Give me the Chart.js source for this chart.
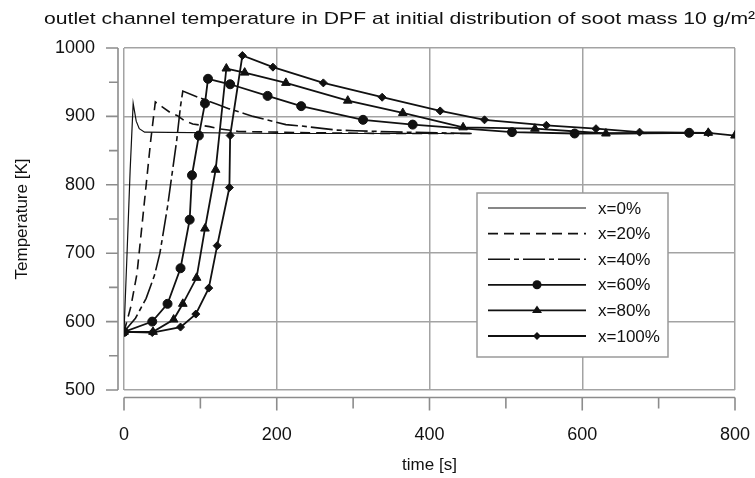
<!DOCTYPE html>
<html>
<head>
<meta charset="utf-8">
<script src="https://cdn.jsdelivr.net/npm/chart.js@4.4.1/dist/chart.umd.min.js"></script>
<style>
  html, body { margin: 0; padding: 0; background: #fff; }
</style>
</head>
<body>
<canvas id="chart" width="755" height="478"></canvas>
<script>
// outlet channel temperature

const titleText = "outlet channel temperature in DPF at initial distribution of soot mass 10 g/m²";
const seriesLabels = ["x=0%", "x=20%", "x=40%", "x=60%", "x=80%", "x=100%"];

const time0 = [0, 4, 8, 12, 16, 20, 27, 200, 455];
const temp0 = [585, 700, 820, 919, 893, 882, 877, 875, 875];

const time20 = [0, 9, 17, 26, 35, 41, 50, 60, 70, 80, 90, 112, 124, 150, 250, 350, 455];
const temp20 = [585, 622, 670, 767, 865, 921, 914, 906, 901, 893, 889, 885, 882, 878, 876, 875, 875];

const time40 = [0, 15, 29, 40, 47, 57, 69, 74, 77, 97, 121, 138, 158, 169, 212, 232, 278, 303, 365, 455];
const temp40 = [585, 605, 634, 668, 700, 768, 865, 915, 937, 928, 918, 911, 904, 900, 888, 886, 880, 879, 877, 875];

const time60 = [0, 37, 57, 74, 86, 89, 98, 106, 110, 139, 188, 232, 313, 378, 508, 590, 740];
const temp60 = [585, 600, 626, 678, 749, 814, 872, 919, 955, 947, 930, 915, 895, 888, 877, 875, 876];

const time80 = [0, 38, 65, 77, 95, 106, 120, 134, 158, 212, 293, 365, 444, 538, 631, 765, 800];
const temp80 = [585, 585, 603, 626, 664, 736, 822, 970, 964, 949, 923, 905, 884, 882, 875, 876, 872];

const time100 = [0, 37, 74, 94, 111, 122, 138, 139, 155, 195, 261, 338, 414, 472, 553, 618, 675, 765];
const temp100 = [585, 584, 592, 611, 649, 711, 796, 872, 989, 972, 949, 928, 908, 895, 887, 882, 877, 876];

const FONT = "'Liberation Sans', Arial, Helvetica, sans-serif";
const INK = "#111";
const GRID = "#a3a3a3";

const toPoints = (xs, ys) => xs.map((x, i) => ({ x, y: ys[i] }));

const datasets = [
  { label: seriesLabels[0], data: toPoints(time0, temp0), borderWidth: 1.2, pointRadius: 0 },
  { label: seriesLabels[1], data: toPoints(time20, temp20), borderWidth: 1.6, borderDash: [10, 6], pointRadius: 0 },
  { label: seriesLabels[2], data: toPoints(time40, temp40), borderWidth: 1.6, borderDash: [22, 4, 5, 4], pointRadius: 0 },
  { label: seriesLabels[3], data: toPoints(time60, temp60), borderWidth: 1.8, pointStyle: "circle", pointRadius: 4.5 },
  { label: seriesLabels[4], data: toPoints(time80, temp80), borderWidth: 1.8, pointStyle: "triangle", pointRadius: 5 },
  { label: seriesLabels[5], data: toPoints(time100, temp100), borderWidth: 1.8, pointStyle: "rectRot", pointRadius: 4 }
].map(d => Object.assign({
  borderColor: INK,
  backgroundColor: INK,
  pointBackgroundColor: INK,
  pointBorderColor: INK,
  pointBorderWidth: 1,
  pointStyle: false,
  tension: 0,
  fill: false
}, d));

// small marker helper for the legend
function marker(ctx, style, x, y, r) {
  ctx.beginPath();
  if (style === "circle") {
    ctx.arc(x, y, r, 0, Math.PI * 2);
  } else if (style === "triangle") {
    const h = r * 1.5;
    ctx.moveTo(x, y - h * 0.66);
    ctx.lineTo(x + r, y + h * 0.34);
    ctx.lineTo(x - r, y + h * 0.34);
    ctx.closePath();
  } else if (style === "rectRot") {
    ctx.moveTo(x, y - r); ctx.lineTo(x + r, y); ctx.lineTo(x, y + r); ctx.lineTo(x - r, y);
    ctx.closePath();
  } else {
    return;
  }
  ctx.fill();
}

const titlePlugin = {
  id: "figTitle",
  afterDraw(chart) {
    const ctx = chart.ctx;
    ctx.save();
    ctx.font = "17px " + FONT;
    ctx.fillStyle = INK;
    ctx.textBaseline = "middle";
    const w = ctx.measureText("outlet channel temperature in DPF at initial distribution of soot mass 10 g/m").width;
    const sx = (748 - 44) / w;
    ctx.translate(44, 19);
    ctx.scale(sx, 1);
    ctx.fillText(titleText, 0, 0);
    ctx.restore();
  }
};

// axis lines sit a few px away from the plot frame, like in the figure
const axesPlugin = {
  id: "offsetAxes",
  afterDraw(chart) {
    const { ctx, chartArea: a, scales: { x, y } } = chart;
    const yAxisX = a.left - 6;
    const xAxisY = a.bottom + 7.5;
    ctx.save();
    ctx.strokeStyle = "#8c8c8c";
    ctx.lineWidth = 1.6;
    ctx.beginPath();
    ctx.moveTo(yAxisX, a.top); ctx.lineTo(yAxisX, a.bottom);
    ctx.moveTo(a.left, xAxisY); ctx.lineTo(a.right, xAxisY);
    y.ticks.forEach(t => {
      const py = y.getPixelForValue(t.value);
      const len = t.value % 100 === 0 ? 12 : 9;
      ctx.moveTo(yAxisX - len, py); ctx.lineTo(yAxisX, py);
    });
    x.ticks.forEach(t => {
      const px = x.getPixelForValue(t.value);
      const len = t.value % 200 === 0 ? 13 : 11;
      ctx.moveTo(px, xAxisY); ctx.lineTo(px, xAxisY + len);
    });
    ctx.stroke();
    ctx.restore();
  }
};

const legendPlugin = {
  id: "boxLegend",
  afterDraw(chart) {
    const ctx = chart.ctx;
    const box = { x: 477, y: 193, w: 191, h: 164 };
    ctx.save();
    ctx.fillStyle = "#fff";
    ctx.fillRect(box.x, box.y, box.w, box.h);
    ctx.strokeStyle = "#9a9a9a";
    ctx.lineWidth = 1.5;
    ctx.strokeRect(box.x, box.y, box.w, box.h);
    ctx.font = "17px " + FONT;
    ctx.textBaseline = "middle";
    chart.data.datasets.forEach((ds, i) => {
      const ly = 208 + i * 25.6;
      ctx.strokeStyle = ds.borderColor;
      ctx.lineWidth = ds.borderWidth;
      ctx.setLineDash(ds.borderDash || []);
      ctx.beginPath();
      ctx.moveTo(488, ly); ctx.lineTo(586, ly);
      ctx.stroke();
      ctx.setLineDash([]);
      ctx.fillStyle = INK;
      if (ds.pointStyle) marker(ctx, ds.pointStyle, 537, ly, ds.pointRadius);
      ctx.fillText(ds.label, 598, ly + 1);
    });
    ctx.restore();
  }
};

new Chart(document.getElementById("chart"), {
  type: "line",
  data: { datasets },
  options: {
    responsive: false,
    animation: false,
    layout: { padding: { top: 48, right: 20, left: 0, bottom: 0 } },
    plugins: { legend: { display: false }, tooltip: { enabled: false } },
    scales: {
      x: {
        type: "linear",
        min: 0,
        max: 800,
        ticks: {
          stepSize: 100,
          autoSkip: false,
          maxRotation: 0,
          padding: 34,
          color: INK,
          font: { family: FONT, size: 18 },
          callback: v => (v % 200 === 0 ? v : "")
        },
        grid: {
          drawTicks: false,
          lineWidth: 1.5,
          color: c => (c.tick && c.tick.value % 200 === 0 ? GRID : "rgba(0,0,0,0)")
        },
        border: { display: false },
        title: {
          display: true,
          text: "time [s]",
          color: INK,
          font: { family: FONT, size: 17 },
          padding: { top: 0, bottom: 2 }
        },
        afterFit: s => { s.height = 88; s.paddingLeft = 0; s.paddingRight = 0; }
      },
      y: {
        min: 500,
        max: 1000,
        ticks: {
          stepSize: 50,
          autoSkip: false,
          padding: 29,
          color: INK,
          font: { family: FONT, size: 18 },
          callback: v => (v % 100 === 0 ? v : "")
        },
        grid: {
          drawTicks: false,
          lineWidth: 1.5,
          color: c => (c.tick && c.tick.value % 100 === 0 ? GRID : "rgba(0,0,0,0)")
        },
        border: { display: false },
        title: {
          display: true,
          text: "Temperature [K]",
          color: INK,
          font: { family: FONT, size: 17 },
          padding: { top: 12, bottom: 0 }
        },
        afterFit: s => { s.width = 124; s.paddingTop = 0; s.paddingBottom = 0; }
      }
    }
  },
  plugins: [titlePlugin, axesPlugin, legendPlugin]
});
</script>
</body>
</html>
